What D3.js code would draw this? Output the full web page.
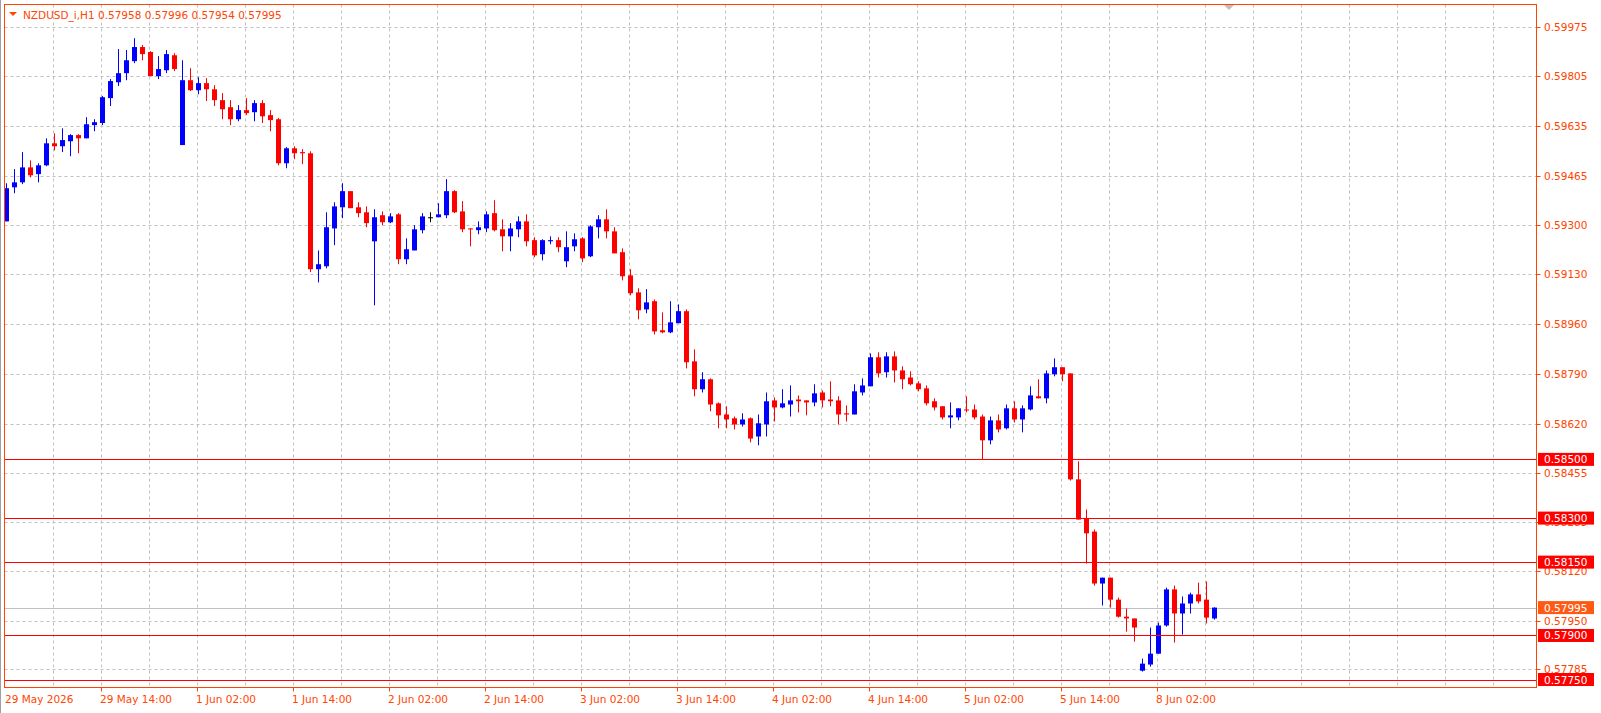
<!DOCTYPE html>
<html>
<head>
<meta charset="utf-8">
<script src="https://cdnjs.cloudflare.com/ajax/libs/d3/7.8.5/d3.min.js"></script>
<style>
  body { margin: 0; background: #fff; }
  svg { display: block; }
  text { font-family: "DejaVu Sans", sans-serif; font-size: 10.5px; }
</style>
</head>
<body>
<div id="chart"></div>
<script>
// OHLC in points (price * 1e5), hourly bars from 29 May 2026
const opens = [59311,59427,59444,59495,59472,59502,59577,59567,59584,59605,59594,59639,59646,59731,59785,59816,59857,59905,59888,59806,
  59826,59877,59571,59792,59758,59782,59761,59724,59700,59659,59690,59683,59714,59673,59659,59509,59560,59547,59543,59148,
  59158,59287,59359,59414,59359,59342,59243,59332,59308,59335,59182,59212,59281,59325,59325,59332,59414,59345,59287,59281,
  59287,59339,59284,59260,59284,59311,59247,59199,59243,59247,59175,59226,59253,59192,59291,59318,59277,59206,59127,59069,
  59011,59039,58940,58933,58964,59005,58834,58739,58773,58691,58653,58640,58619,58640,58578,58619,58701,58677,58687,58704,
  58701,58694,58728,58704,58701,58657,58653,58728,58749,58848,58797,58851,58803,58779,58759,58742,58698,58681,58643,58643,
  58670,58670,58646,58565,58633,58606,58674,58636,58670,58715,58708,58790,58814,58793,58432,58299,58254,58077,58097,58022,
  57964,57958,57780,57801,57838,57934,58057,57975,58009,58040,58022,57958];
const highs = [59441,59489,59547,59519,59509,59594,59611,59628,59608,59608,59666,59659,59738,59796,59898,59895,59935,59912,59891,59874,
  59895,59884,59860,59833,59802,59799,59775,59748,59724,59707,59731,59724,59724,59690,59663,59564,59567,59557,59550,59212,
  59342,59376,59441,59414,59376,59362,59352,59345,59339,59339,59253,59298,59339,59342,59373,59455,59417,59380,59287,59311,
  59345,59383,59318,59305,59328,59335,59257,59250,59260,59257,59277,59270,59257,59298,59332,59352,59291,59219,59148,59083,
  59080,59045,59001,59039,59028,59011,58875,58797,58776,58694,58681,58646,58657,58643,58653,58728,58711,58739,58752,58718,
  58701,58756,58735,58766,58715,58684,58756,58776,58861,58865,58865,58868,58817,58800,58766,58752,58708,58681,58694,58674,
  58715,58687,58653,58646,58653,58687,58698,58684,58749,58773,58803,58844,58814,58793,58493,58329,58261,58097,58097,58029,
  57992,57958,57821,57927,57944,58063,58070,58033,58046,58080,58084,57996];
const lows = [59311,59407,59438,59461,59444,59499,59553,59547,59533,59543,59594,59618,59639,59704,59772,59792,59850,59860,59806,59796,
  59816,59823,59571,59755,59744,59721,59704,59659,59639,59652,59673,59652,59646,59618,59502,59492,59523,59506,59138,59103,
  59151,59230,59322,59356,59325,59291,59025,59298,59305,59165,59165,59212,59270,59308,59325,59322,59339,59274,59226,59267,
  59274,59277,59209,59209,59257,59226,59189,59178,59233,59206,59155,59209,59172,59189,59253,59253,59202,59110,59059,58977,
  58998,58926,58930,58930,58964,58810,58715,58728,58664,58606,58606,58602,58612,58558,58548,58578,58629,58674,58646,58660,
  58650,58681,58677,58681,58619,58629,58653,58718,58749,58779,58779,58762,58739,58752,58732,58684,58667,58636,58606,58633,
  58660,58636,58500,58551,58592,58602,58626,58592,58667,58708,58691,58783,58766,58428,58295,58145,58070,58002,57995,57961,
  57913,57879,57777,57794,57838,57930,57876,57903,57975,58009,57941,57954];
const closes = [59424,59444,59495,59468,59502,59577,59567,59588,59605,59594,59642,59649,59734,59789,59816,59860,59905,59881,59806,59830,
  59881,59830,59792,59758,59782,59761,59724,59693,59659,59690,59680,59714,59669,59656,59509,59560,59543,59543,59148,59165,
  59291,59362,59414,59356,59339,59305,59325,59308,59328,59182,59216,59284,59328,59325,59335,59414,59342,59284,59284,59291,
  59335,59281,59260,59287,59311,59243,59195,59247,59247,59223,59223,59250,59185,59294,59318,59277,59202,59124,59066,59008,
  59035,58936,58933,58967,59005,58831,58739,58773,58687,58650,58636,58619,58636,58571,58623,58698,58677,58691,58701,58698,
  58694,58725,58701,58698,58653,58653,58732,58752,58848,58793,58851,58803,58773,58756,58739,58691,58677,58643,58650,58674,
  58667,58643,58565,58633,58602,58674,58636,58674,58718,58708,58793,58814,58790,58432,58295,58248,58077,58097,58022,57964,
  57958,57927,57804,57838,57934,58057,57975,58009,58040,58016,57961,57995];

const priceTicks = [0.59975,0.59805,0.59635,0.59465,0.59300,0.59130,0.58960,0.58790,0.58620,0.58455,0.58285,0.58120,0.57950,0.57785];
const levels = [0.58500,0.58300,0.58150,0.57900,0.57750];
const lastPrice = 0.57995;
const timeLabels = ["29 May 14:00","1 Jun 02:00","1 Jun 14:00","2 Jun 02:00","2 Jun 14:00","3 Jun 02:00",
  "3 Jun 14:00","4 Jun 02:00","4 Jun 14:00","5 Jun 02:00","5 Jun 14:00","8 Jun 02:00"];
const title = "NZDUSD_i,H1  0.57958 0.57996 0.57954 0.57995";

const W = 1601, H = 713;
const pLeft = 4.5, pTop = 4.5, pRight = 1536.5, pBottom = 687.5;
const fg = "#ff4500", upCol = "#0000ff", downCol = "#ff0000";

const bars = opens.map((o, i) => ({ i, o: o / 1e5, h: highs[i] / 1e5, l: lows[i] / 1e5, c: closes[i] / 1e5 }));

const x = d3.scaleLinear().domain([0, bars.length - 1]).range([6, 6 + 8 * (bars.length - 1)]);
const y = d3.scaleLinear().domain([0.5775, 0.59975]).range([679.5, 26.5]);

const svg = d3.select("#chart").append("svg").attr("width", W).attr("height", H);
svg.append("rect").attr("width", W).attr("height", H).attr("fill", "#fff");

// grid
const gridIdx = d3.range(0, 32).map(k => 6 * k).filter(i => x(i) - 1 > pLeft + 2 && x(i) - 1 < pRight - 2);
svg.append("g").selectAll("line").data(gridIdx).join("line")
  .attr("x1", i => Math.round(x(i) - 1) + 0.5).attr("x2", i => Math.round(x(i) - 1) + 0.5)
  .attr("y1", pTop).attr("y2", pBottom)
  .attr("stroke", "#c0c0c0").attr("stroke-dasharray", "3,3");
svg.append("g").selectAll("line").data(priceTicks).join("line")
  .attr("x1", pLeft).attr("x2", pRight)
  .attr("y1", d => Math.round(y(d)) + 0.5).attr("y2", d => Math.round(y(d)) + 0.5)
  .attr("stroke", "#c0c0c0").attr("stroke-dasharray", "3,3");

// price axis labels
svg.append("g").selectAll("text").data(priceTicks).join("text")
  .attr("x", 1544).attr("y", d => y(d) + 4).attr("fill", fg).text(d => d.toFixed(5));
svg.append("g").selectAll("line").data(priceTicks).join("line")
  .attr("x1", pRight).attr("x2", pRight + 4)
  .attr("y1", d => Math.round(y(d)) + 0.5).attr("y2", d => Math.round(y(d)) + 0.5).attr("stroke", fg);

// time labels
svg.append("text").attr("x", 5).attr("y", 703).attr("fill", fg).text("29 May 2026");
const labIdx = timeLabels.map((t, k) => 12 + 12 * k);
svg.append("g").selectAll("text").data(timeLabels).join("text")
  .attr("x", (d, k) => x(labIdx[k]) - 2).attr("y", 703).attr("fill", fg).text(d => d);
svg.append("g").selectAll("line").data(labIdx).join("line")
  .attr("x1", i => Math.round(x(i) - 1) + 0.5).attr("x2", i => Math.round(x(i) - 1) + 0.5)
  .attr("y1", pBottom).attr("y2", pBottom + 4).attr("stroke", fg);

// current price line
svg.append("line").attr("x1", pLeft).attr("x2", pRight)
  .attr("y1", Math.round(y(lastPrice)) + 0.5).attr("y2", Math.round(y(lastPrice)) + 0.5)
  .attr("stroke", "#c0c0c0");

// candles
const g = svg.append("g");
const col = d => d.c > d.o ? upCol : d.c < d.o ? downCol : "#000";
g.selectAll("line").data(bars).join("line")
  .attr("x1", d => x(d.i) + 0.5).attr("x2", d => x(d.i) + 0.5)
  .attr("y1", d => y(d.h)).attr("y2", d => y(d.l)).attr("stroke", col);
g.selectAll("rect").data(bars).join("rect")
  .attr("x", d => x(d.i) - 2).attr("width", 5)
  .attr("y", d => y(Math.max(d.o, d.c)))
  .attr("height", d => Math.max(1, y(Math.min(d.o, d.c)) - y(Math.max(d.o, d.c))))
  .attr("fill", col);

// horizontal levels
svg.append("g").selectAll("line").data(levels).join("line")
  .attr("x1", pLeft).attr("x2", pRight)
  .attr("y1", d => Math.round(y(d)) + 0.5).attr("y2", d => Math.round(y(d)) + 0.5)
  .attr("stroke", downCol);
const tags = levels.map(v => ({ v, bg: downCol })).concat([{ v: lastPrice, bg: "#ff5a14" }]);
const tg = svg.append("g").selectAll("g").data(tags).join("g");
tg.append("rect").attr("x", 1538).attr("y", d => y(d.v) - 6.5).attr("width", 56).attr("height", 13).attr("fill", d => d.bg);
tg.append("text").attr("x", 1544).attr("y", d => y(d.v) + 4).attr("fill", "#fff").text(d => d.v.toFixed(5));

// frame
svg.append("rect").attr("x", pLeft).attr("y", pTop).attr("width", pRight - pLeft).attr("height", pBottom - pTop)
  .attr("fill", "none").attr("stroke", fg);
svg.append("line").attr("x1", 0.5).attr("x2", 0.5).attr("y1", 0).attr("y2", H).attr("stroke", "#a0a0a0");

// shift marker
svg.append("path").attr("d", "M1224,5 L1234,5 L1229,10 Z").attr("fill", "#c0c0c0");

// title
svg.append("path").attr("d", "M9,12 L17,12 L13,16 Z").attr("fill", fg);
svg.append("text").attr("x", 23).attr("y", 19).attr("fill", fg).text(title);
</script>
</body>
</html>
